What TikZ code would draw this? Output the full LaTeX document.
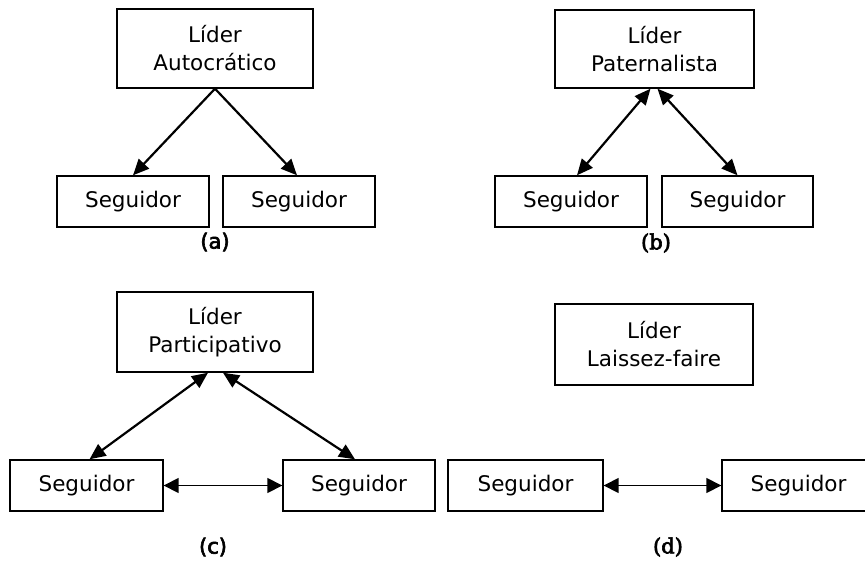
\documentclass[tikz,border=0pt]{standalone}
\usepackage{fontspec}
\setmainfont{DejaVu Sans}
\newfontfamily\lblsans{DejaVu Sans}[FakeBold=3]
\newfontfamily\lblserif{DejaVu Serif}[FakeBold=3]
\usetikzlibrary{arrows.meta}
\tikzset{
  boxnode/.style={draw, line width=1.4pt, rectangle, inner sep=0pt, align=center,
    font=\fontsize{21.5}{28}\selectfont},
  lblA/.style={inner sep=0pt, font=\lblsans\fontsize{21}{24}\selectfont},
  lblB/.style={inner sep=0pt, font=\lblserif\fontsize{21}{24}\selectfont},
  diag/.style={line width=2.2pt, -{Triangle[length=16pt,width=14pt]}},
  diagb/.style={line width=2.2pt, {Triangle[length=16pt,width=14pt]}-{Triangle[length=16pt,width=14pt]}},
  horiz/.style={line width=1.6pt, {Triangle[length=15pt,width=15pt]}-{Triangle[length=15pt,width=15pt]}}
}
\begin{document}
\begin{tikzpicture}[x=1pt,y=-1pt]
\clip (0,0) rectangle (865,562);
\fill[white] (0,0) rectangle (865,562);
% (a)
\node[boxnode, minimum width=196pt, minimum height=79pt] (aL) at (215,48.5) {Líder\\Autocrático};
\node[boxnode, minimum width=152pt, minimum height=51pt] (aF1) at (133,201.5) {Seguidor};
\node[boxnode, minimum width=152pt, minimum height=51pt] (aF2) at (299,201.5) {Seguidor};
\coordinate (aT) at (aL.south);
\draw[diag] (aT) -- (aF1.north);
\draw[diag] (aT) -- ([xshift=-2pt]aF2.north);
\node[lblA] (aLab) at (215,242) {(a)};
% (b)
\node[boxnode, minimum width=199pt, minimum height=78pt] (bL) at (654.5,49) {Líder\\Paternalista};
\node[boxnode, minimum width=152pt, minimum height=51pt] (bF1) at (571,201.5) {Seguidor};
\node[boxnode, minimum width=151pt, minimum height=51pt] (bF2) at (737.5,201.5) {Seguidor};
\coordinate (bT1) at ([xshift=-4pt]bL.south);
\coordinate (bT2) at ([xshift=3pt]bL.south);
\draw[diagb] (bT1) -- ([xshift=6pt]bF1.north);
\draw[diagb] (bT2) -- (bF2.north);
\node[lblB] (bLab) at (656,243) {(b)};
% (c)
\node[boxnode, minimum width=196pt, minimum height=80pt] (cL) at (215,332) {Líder\\Participativo};
\node[boxnode, minimum width=153pt, minimum height=51pt] (cF1) at (86.5,485.5) {Seguidor};
\node[boxnode, minimum width=152pt, minimum height=51pt] (cF2) at (359,485.5) {Seguidor};
\coordinate (cT1) at ([xshift=-7pt]cL.south);
\coordinate (cT2) at ([xshift=8pt]cL.south);
\draw[diagb] (cT1) -- ([xshift=3pt]cF1.north);
\draw[diagb] (cT2) -- ([xshift=-4pt]cF2.north);
\draw[horiz] (cF1.east) -- (cF2.west);
\node[lblA] (cLab) at (213,547) {(c)};
% (d)
\node[boxnode, minimum width=198pt, minimum height=81pt] (dL) at (654,344.5) {Líder\\Laissez-faire};
\node[boxnode, minimum width=155pt, minimum height=51pt] (dF1) at (525.5,485.5) {Seguidor};
\node[boxnode, minimum width=153pt, minimum height=51pt] (dF2) at (798.5,485.5) {Seguidor};
\draw[horiz] (dF1.east) -- (dF2.west);
\node[lblB] (dLab) at (668,547) {(d)};
\end{tikzpicture}
\end{document}
